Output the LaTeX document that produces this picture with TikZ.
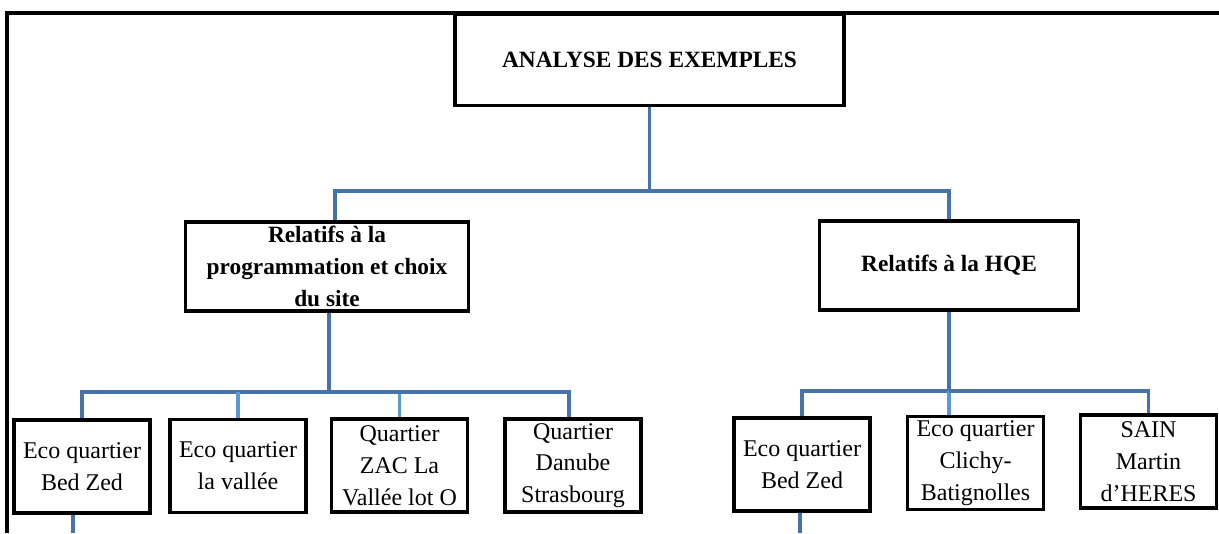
\documentclass[tikz,border=0pt]{standalone}
\usepackage{fontspec}
\setmainfont{Liberation Serif}
\definecolor{linkblue}{RGB}{70,116,170}
\definecolor{lightblue}{RGB}{92,152,210}

\begin{document}
\begin{tikzpicture}[
    x=0.75pt, y=-0.75pt,
    head/.style={draw, rectangle, line width=2.6pt, inner sep=0pt,
                 align=center, font={\fontsize{17.5}{23.8}\selectfont\bfseries}},
    leaf/.style={draw, rectangle, line width=2.6pt, inner sep=0pt,
                 minimum width=102pt, minimum height=70pt,
                 align=center, font={\fontsize{18}{23.8}\selectfont}},
    link/.style={draw=linkblue, line width=2.5pt},
    sublink/.style={draw=lightblue, line width=2.5pt}
]
\useasboundingbox (0,0) rectangle (1219,533);

% Cadre de la page
\draw[line width=2.6pt] (1219,13) -- (7,13) -- (7,533);

% Noeuds (titres)
\node[head, minimum width=292pt, minimum height=68pt] (analyse) at (649.5,60)  {ANALYSE DES EXEMPLES};
\node[head, minimum width=212pt, minimum height=67pt] (prog)    at (327,266.5) {Relatifs à la\\programmation et choix\\du site};
\node[head, minimum width=194pt, minimum height=67pt] (hqe)     at (949,265.5) {Relatifs à la HQE};

% Noeuds (exemples)
\node[leaf] (bedzedA)  at (82,466.5)   {Eco quartier\\Bed Zed};
\node[leaf] (vallee)   at (238,466)    {Eco quartier\\la vallée};
\node[leaf] (zac)      at (399.5,465.5){Quartier\\ZAC La\\Vallée lot O};
\node[leaf] (danube)   at (573,465.5)  {Quartier\\Danube\\Strasbourg};
\node[leaf] (bedzedB)  at (802,464.5)  {Eco quartier\\Bed Zed};
\node[leaf] (clichy)   at (975.5,463)  {Eco quartier\\Clichy-\\Batignolles};
\node[leaf] (sain)     at (1148.5,461.5){SAIN\\Martin\\d’HERES};

% Points de jonction
\coordinate (busTop)   at (649.5,191);
\coordinate (busLeft)  at (329,392);
\coordinate (busRight) at (949,391);
\coordinate (cutA)     at (73,533);
\coordinate (cutB)     at (800,533);

% Analyse -> Relatifs
\draw[link] (analyse.south) -- (busTop);
\draw[link] (busTop) -| ([xshift=6pt]prog.north);
\draw[link] (busTop) -| (hqe.north);

% Programmation -> exemples
\draw[link] ([xshift=1.5pt]prog.south) -- (busLeft);
\draw[link] (busLeft) -| (bedzedA.north);
\draw[sublink] (busLeft -| vallee.north) -- (vallee.north);
\draw[sublink] (busLeft -| zac.north) -- (zac.north);
\draw[link] (busLeft) -| ([xshift=-3pt]danube.north);

% HQE -> exemples
\draw[link] (hqe.south) -- (busRight);
\draw[link] (busRight) -| (bedzedB.north);
\draw[sublink] (busRight) -- (busRight |- clichy.north);
\draw[link] (busRight) -| (sain.north);

% Suite vers la page suivante
\draw[link] (bedzedA.south -| cutA) -- (cutA);
\draw[link] (bedzedB.south -| cutB) -- (cutB);

\end{tikzpicture}
\end{document}
